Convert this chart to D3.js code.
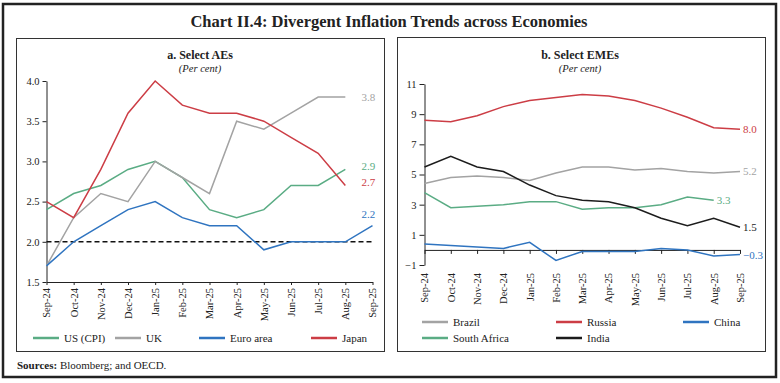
<!DOCTYPE html>
<html>
<head>
<meta charset="utf-8">
<script src="https://cdn.jsdelivr.net/npm/d3@7"></script>
<style>
  body { margin: 0; background: #fff; }
  text { font-family: "Liberation Serif", "DejaVu Serif", serif; fill: #222; }
</style>
</head>
<body>
<div id="chart"></div>
<script>
// months shared by both panels
var months = ["Sep-24","Oct-24","Nov-24","Dec-24","Jan-25","Feb-25","Mar-25","Apr-25","May-25","Jun-25","Jul-25","Aug-25","Sep-25"];

// panel a: select AEs (per cent)
var usCpi  = [2.4, 2.6, 2.7, 2.9, 3.0, 2.8, 2.4, 2.3, 2.4, 2.7, 2.7, 2.9, null];
var uk     = [1.7, 2.3, 2.6, 2.5, 3.0, 2.8, 2.6, 3.5, 3.4, 3.6, 3.8, 3.8, null];
var euro   = [1.7, 2.0, 2.2, 2.4, 2.5, 2.3, 2.2, 2.2, 1.9, 2.0, 2.0, 2.0, 2.2];
var japan  = [2.5, 2.3, 2.9, 3.6, 4.0, 3.7, 3.6, 3.6, 3.5, 3.3, 3.1, 2.7, null];
var ticksA = [1.5, 2.0, 2.5, 3.0, 3.5, 4.0];

// panel b: select EMEs (per cent)
var brazil  = [4.4, 4.8, 4.9, 4.8, 4.6, 5.1, 5.5, 5.5, 5.3, 5.4, 5.2, 5.1, 5.2];
var russia  = [8.6, 8.5, 8.9, 9.5, 9.9, 10.1, 10.3, 10.2, 9.9, 9.4, 8.8, 8.1, 8.0];
var china   = [0.4, 0.3, 0.2, 0.1, 0.5, -0.7, -0.1, -0.1, -0.1, 0.1, 0.0, -0.4, -0.3];
var safrica = [3.8, 2.8, 2.9, 3.0, 3.2, 3.2, 2.7, 2.8, 2.8, 3.0, 3.5, 3.3, null];
var india   = [5.5, 6.2, 5.5, 5.2, 4.3, 3.6, 3.3, 3.2, 2.8, 2.1, 1.6, 2.1, 1.5];
var ticksB  = [-1, 1, 3, 5, 7, 9, 11];

var colors = {green: "#5aac84", grey: "#a3a3a3", blue: "#2f74c0", red: "#cc3d45", black: "#1c1c1c"};

var seriesA = [
  {name: "US (CPI)",  values: usCpi, color: colors.green, dy: -3},
  {name: "UK",        values: uk,    color: colors.grey,  dy: 0},
  {name: "Euro area", values: euro,  color: colors.blue,  dy: -12},
  {name: "Japan",     values: japan, color: colors.red,   dy: -3}
];
var seriesB = [
  {name: "Brazil",       values: brazil,  color: colors.grey,  dy: 0},
  {name: "Russia",       values: russia,  color: colors.red,   dy: 0},
  {name: "China",        values: china,   color: colors.blue,  dy: 1},
  {name: "South Africa", values: safrica, color: colors.green, dy: 0},
  {name: "India",        values: india,   color: colors.black, dy: 0}
];

var W = 780, H = 383;
var svg = d3.select("#chart").append("svg")
  .attr("width", W).attr("height", H);

// outer frame
svg.append("rect").attr("x", 3).attr("y", 4).attr("width", 773).attr("height", 373)
  .attr("fill", "none").attr("stroke", "#222").attr("stroke-width", 2.5);

svg.append("text").attr("x", 389).attr("y", 27).attr("text-anchor", "middle")
  .attr("font-size", 16.5).attr("font-weight", "bold")
  .text("Chart II.4: Divergent Inflation Trends across Economies");

svg.append("text").attr("x", 17).attr("y", 369).attr("font-size", 11)
  .html('<tspan font-weight="bold">Sources:</tspan> Bloomberg; and OECD.');

// panel boxes
svg.append("rect").attr("x", 16.5).attr("y", 38.5).attr("width", 368).attr("height", 313)
  .attr("fill", "none").attr("stroke", "#333");
svg.append("rect").attr("x", 397.5).attr("y", 37.5).attr("width", 368).attr("height", 314)
  .attr("fill", "none").attr("stroke", "#333");

function panelTitle(cx, title) {
  svg.append("text").attr("x", cx).attr("y", 59).attr("text-anchor", "middle")
    .attr("font-size", 12).attr("font-weight", "bold").text(title);
  svg.append("text").attr("x", cx).attr("y", 72).attr("text-anchor", "middle")
    .attr("font-size", 10.5).attr("font-style", "italic").text("(Per cent)");
}

function styleAxis(g) {
  g.selectAll("path, line").attr("stroke", "#222");
  g.selectAll("text").attr("font-family", "Liberation Serif, serif").attr("fill", "#222");
}

function drawLines(series, x, y) {
  var line = d3.line()
    .defined(function(d) { return d != null; })
    .x(function(d, i) { return x(months[i]); })
    .y(function(d) { return y(d); });
  series.forEach(function(s) {
    svg.append("path").datum(s.values)
      .attr("fill", "none").attr("stroke", s.color).attr("stroke-width", 1.5)
      .attr("d", line);
  });
}

function endLabels(series, x, y, xOf) {
  series.forEach(function(s) {
    var last = -1;
    s.values.forEach(function(v, i) { if (v != null) last = i; });
    svg.append("text")
      .attr("x", xOf(last))
      .attr("y", y(s.values[last]) + s.dy)
      .attr("dy", "0.35em").attr("font-size", 11)
      .style("fill", s.color)
      .text(d3.format(".1f")(s.values[last]));
  });
}

function legend(items, rows) {
  items.forEach(function(it, i) {
    var r = rows[i];
    svg.append("line").attr("x1", r[0]).attr("x2", r[0] + 26).attr("y1", r[1]).attr("y2", r[1])
      .attr("stroke", it.color).attr("stroke-width", 2.5);
    svg.append("text").attr("x", r[0] + 31).attr("y", r[1]).attr("dy", "0.35em")
      .attr("font-size", 11).text(it.name);
  });
}

// ---------- panel a ----------
panelTitle(200, "a. Select AEs");
var xA = d3.scalePoint().domain(months).range([46.5, 372.5]);
var yA = d3.scaleLinear().domain([1.5, 4.0]).range([282, 81]);

svg.append("g").attr("transform", "translate(46.5,0)")
  .call(d3.axisLeft(yA).tickValues(ticksA).tickFormat(d3.format(".1f")).tickSize(4).tickSizeOuter(0))
  .call(function(g) { g.selectAll("text").attr("font-size", 10.5); })
  .call(styleAxis);

var gxA = svg.append("g").attr("transform", "translate(0,282)")
  .call(d3.axisBottom(xA).tickSize(3).tickSizeOuter(0))
  .call(styleAxis);
gxA.selectAll(".tick text").attr("font-size", 10.5)
  .attr("text-anchor", "end").attr("dy", "0.32em").attr("y", 0).attr("x", 0)
  .attr("transform", "translate(0,6) rotate(-90)");

// 2 per cent target line
svg.append("line").attr("x1", xA(months[0])).attr("x2", xA(months[12]))
  .attr("y1", yA(2.0)).attr("y2", yA(2.0))
  .attr("stroke", "#111").attr("stroke-width", 1.6).attr("stroke-dasharray", "5,3");

drawLines(seriesA, xA, yA);
endLabels(seriesA, xA, yA, function() { return xA(months[12]) - 11; });

legend(seriesA, [[33, 338], [115, 338], [199, 338], [311, 338]]);

// ---------- panel b ----------
panelTitle(580, "b. Select EMEs");
var xB = d3.scalePoint().domain(months).range([424.5, 740]);
var yB = d3.scaleLinear().domain([-1, 11]).range([265, 84]);

svg.append("g").attr("transform", "translate(424.5,0)")
  .call(d3.axisLeft(yB).tickValues(ticksB).tickFormat(d3.format("d")).tickSize(5).tickSizeOuter(0))
  .call(function(g) { g.selectAll("text").attr("font-size", 10.5); })
  .call(styleAxis);

svg.append("g").attr("transform", "translate(0," + yB(0) + ")")
  .call(d3.axisBottom(xB).tickSize(4).tickSizeOuter(0).tickFormat(""))
  .call(styleAxis);

var gxB = svg.append("g").attr("transform", "translate(0," + yB(-1) + ")")
  .call(d3.axisBottom(xB).tickSize(0))
  .call(styleAxis);
gxB.select(".domain").remove();
gxB.selectAll(".tick text").attr("font-size", 10.5)
  .attr("text-anchor", "end").attr("dy", "0.32em").attr("y", 0).attr("x", 0)
  .attr("transform", "translate(0,8) rotate(-90)");

drawLines(seriesB, xB, yB);
endLabels(seriesB, xB, yB, function(i) { return xB(months[i]) + 3; });

legend(seriesB, [[422, 322], [556, 322], [683, 322], [422, 338], [556, 338]]);
</script>
</body>
</html>
